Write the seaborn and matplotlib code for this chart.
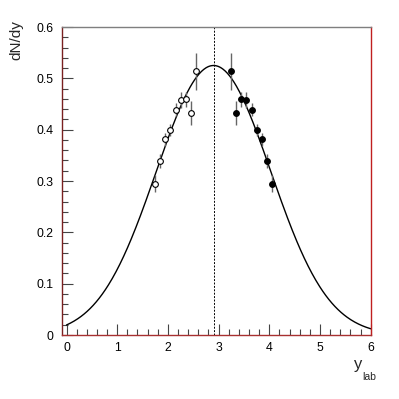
import numpy as np
import pandas as pd
import matplotlib
matplotlib.use("Agg")
import matplotlib.pyplot as plt
import seaborn as sns
from matplotlib.ticker import MultipleLocator

# ---- data ----
open_x = [1.75, 1.85, 1.95, 2.05, 2.15, 2.25, 2.35, 2.45, 2.55]
open_y = [0.295, 0.339, 0.381, 0.399, 0.439, 0.458, 0.459, 0.433, 0.514]
open_err = [0.016, 0.014, 0.013, 0.012, 0.012, 0.015, 0.014, 0.023, 0.036]

closed_x = [3.25, 3.35, 3.45, 3.55, 3.65, 3.75, 3.85, 3.95, 4.05]
closed_y = [0.514, 0.433, 0.459, 0.458, 0.439, 0.399, 0.381, 0.339, 0.295]
closed_err = [0.036, 0.023, 0.014, 0.015, 0.012, 0.012, 0.013, 0.014, 0.016]

# Gaussian fit parameters
fit_amp = 0.525
fit_mean = 2.9
fit_sigma = 1.13
fit_range = (0.0, 6.0)

mid_rapidity = 2.9

x_ticks = [0, 1, 2, 3, 4, 5, 6]
y_ticks = [0, 0.1, 0.2, 0.3, 0.4, 0.5, 0.6]

# ---- figure ----
sns.set_theme(style="white")
plt.rcParams['font.family'] = ['Liberation Sans', 'DejaVu Sans']

fig = plt.figure(figsize=(3.99, 3.99), dpi=100)
ax = fig.add_axes([62.3/399, 1 - 335/399, (370.7-62.3)/399, (335-27)/399])

xf = np.linspace(fit_range[0], fit_range[1], 400)
fit_df = pd.DataFrame({"x": xf,
                       "y": fit_amp * np.exp(-(xf - fit_mean) ** 2 / (2 * fit_sigma ** 2))})
sns.lineplot(data=fit_df, x="x", y="y", ax=ax, color="black", linewidth=1.0, zorder=2)

ax.axvline(mid_rapidity, color="black", linestyle=(0, (2.0, 1.5)), linewidth=0.7, zorder=1)

ax.errorbar(open_x, open_y, yerr=open_err, fmt="none", ecolor="#666666",
            elinewidth=1.0, capsize=0, zorder=3)
ax.errorbar(closed_x, closed_y, yerr=closed_err, fmt="none", ecolor="#666666",
            elinewidth=1.0, capsize=0, zorder=3)

sns.scatterplot(x=open_x, y=open_y, ax=ax, marker="o", s=17, facecolor="white",
                edgecolor="black", linewidth=0.8, zorder=4)
sns.scatterplot(x=closed_x, y=closed_y, ax=ax, marker="o", s=17, color="black",
                edgecolor="black", linewidth=0.8, zorder=4)

ax.set_xlim(-0.083, 6.0)
ax.set_ylim(0, 0.6)
ax.set_xticks(x_ticks)
ax.set_yticks(y_ticks)
ax.set_xticklabels([str(t) for t in x_ticks])
ax.set_yticklabels(["0" if t == 0 else f"{t:.1f}" for t in y_ticks])
ax.xaxis.set_minor_locator(MultipleLocator(0.2))
ax.yaxis.set_minor_locator(MultipleLocator(0.02))
ax.tick_params(axis="x", which="major", pad=5)
ax.tick_params(axis="y", which="major", pad=6.5)
ax.tick_params(axis="both", which="major", direction="in", length=8, width=0.8,
               color="#444444", labelsize=8.8, labelcolor="black",
               bottom=True, left=True, top=False, right=False)
ax.tick_params(axis="both", which="minor", direction="in", length=4, width=0.8,
               color="#444444", bottom=True, left=True, top=False, right=False)
ax.set_xlabel("")
ax.set_ylabel("")

for side, col in [("left", "#7a2020"), ("top", "#7f7f7f"),
                  ("right", "#c02020"), ("bottom", "#a83030")]:
    ax.spines[side].set_visible(True)
    ax.spines[side].set_color(col)
    ax.spines[side].set_linewidth(1.0)

fig.text(16/399, 1 - 20/399, "dN/dy", rotation=90, ha="center", va="top",
         fontsize=11)
fig.text(362/399, 1 - 369/399, "y", ha="right", va="baseline", fontsize=12)
fig.text(362.5/399, 1 - 380/399, "lab", ha="left", va="baseline", fontsize=7.5)

fig.savefig("out.png", dpi=100)
